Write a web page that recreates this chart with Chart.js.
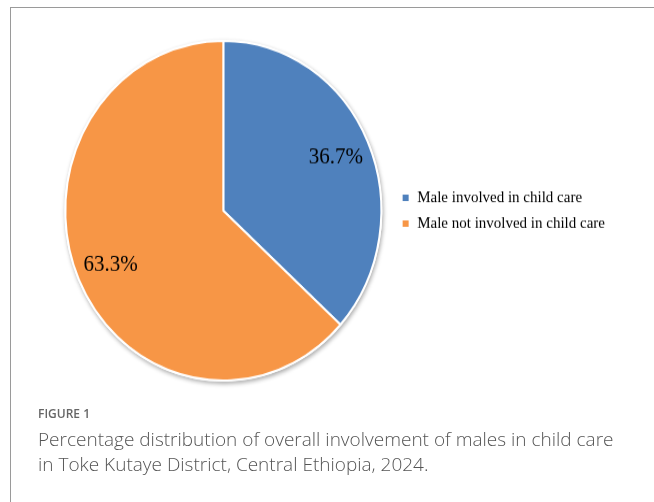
<!DOCTYPE html>
<html lang="en">

<head>
    <meta charset="UTF-8">
    <title>Male involvement in child care</title>
    <script src="https://cdn.jsdelivr.net/npm/chart.js"></script>
    <style>
        body { margin: 0; width: 654px; height: 502px; background: #fff; position: relative; overflow: hidden; }
        .frame { position: absolute; left: 10px; top: 7px; right: -2px; bottom: -2px; border-top: 1px solid #9a9a9a; border-left: 1px solid #9a9a9a; }
        /* the original figure is slightly stretched vertically */
        .chart-box { position: absolute; left: 0; top: 0; width: 654px; height: 400px; transform: scaleY(1.075); transform-origin: 0 0; }
        .fig-label { position: absolute; left: 38px; top: 405px; font-family: "Open Sans", sans-serif; font-weight: 600; font-size: 12px; color: #666; }
        .caption { position: absolute; left: 38px; top: 427px; width: 616px; font-family: "Open Sans", sans-serif; font-weight: 300; font-size: 19px; line-height: 25px; color: #555; white-space: nowrap; }
    </style>
</head>

<body>
    <div class="frame"></div>
    <div class="chart-box">
        <canvas id="pieChart"></canvas>
    </div>
    <div class="fig-label">FIGURE 1</div>
    <div class="caption">Percentage distribution of overall involvement of males in child care<br>in Toke Kutaye District, Central Ethiopia, 2024.</div>

    <script>
        const categories = ['Male involved in child care', 'Male not involved in child care'];
        const percentages = [36.7, 63.3];
        const sliceColors = ['#4f81bd', '#f79646'];

        // soft grey shadow under the whole pie
        const pieShadow = {
            id: 'pieShadow',
            beforeDatasetsDraw(chart) {
                const arc = chart.getDatasetMeta(0).data[0];
                if (!arc) return;
                const ctx = chart.ctx;
                ctx.save();
                ctx.shadowColor = 'rgba(0,0,0,0.35)';
                ctx.shadowBlur = 4;
                ctx.shadowOffsetX = 1;
                ctx.shadowOffsetY = 2;
                ctx.fillStyle = '#fff';
                ctx.beginPath();
                ctx.arc(arc.x, arc.y, arc.outerRadius + 1, 0, Math.PI * 2);
                ctx.fill();
                ctx.restore();
            }
        };

        // percentage text inside each slice
        const sliceLabels = {
            id: 'sliceLabels',
            afterDatasetsDraw(chart) {
                const ctx = chart.ctx;
                const meta = chart.getDatasetMeta(0);
                ctx.save();
                ctx.font = '21px "Liberation Serif", "Times New Roman", serif';
                ctx.fillStyle = '#000';
                ctx.textAlign = 'center';
                ctx.textBaseline = 'middle';
                meta.data.forEach((arc, i) => {
                    const mid = (arc.startAngle + arc.endAngle) / 2;
                    const r = arc.outerRadius * 0.78;
                    ctx.fillText(percentages[i].toFixed(1) + '%', arc.x + Math.cos(mid) * r, arc.y + Math.sin(mid) * r);
                });
                ctx.restore();
            }
        };

        const ctx = document.getElementById('pieChart').getContext('2d');
        new Chart(ctx, {
            type: 'pie',
            data: {
                labels: categories,
                datasets: [{
                    data: percentages,
                    backgroundColor: sliceColors,
                    borderColor: '#fff',
                    borderWidth: 2
                }]
            },
            options: {
                responsive: true,
                maintainAspectRatio: false,
                animation: false,
                layout: { padding: { left: 54, right: 39, top: 37, bottom: 45 } },
                plugins: {
                    tooltip: { enabled: false },
                    legend: {
                        position: 'right',
                        labels: {
                            boxWidth: 8,
                            boxHeight: 8,
                            padding: 9,
                            color: '#000',
                            font: { family: '"Liberation Serif", "Times New Roman", serif', size: 15 }
                        }
                    }
                }
            },
            plugins: [pieShadow, sliceLabels]
        });
    </script>
</body>

</html>
